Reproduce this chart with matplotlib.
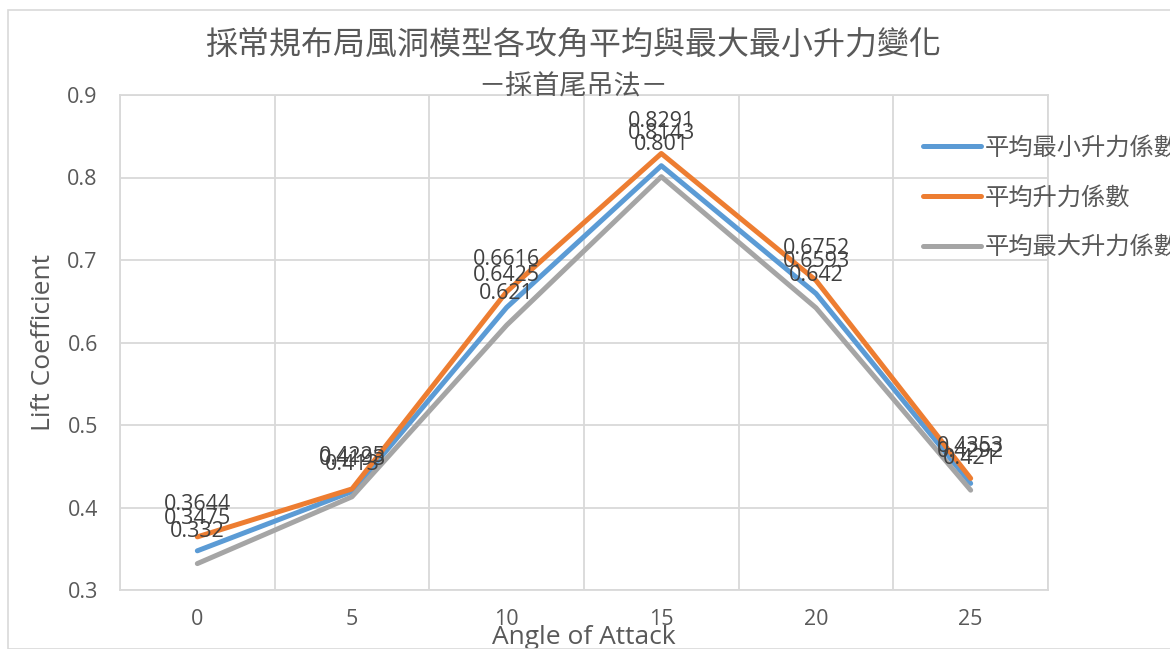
import matplotlib
matplotlib.use("Agg")
import matplotlib.pyplot as plt
from matplotlib.patches import Rectangle

plt.rcParams['font.family'] = ['Open Sans', 'Noto Sans CJK TC', 'DejaVu Sans']

angles = [0, 5, 10, 15, 20, 25]
series_names = ['平均最小升力係數', '平均升力係數', '平均最大升力係數']
cl_min = [0.3475, 0.4193, 0.6425, 0.8143, 0.6593, 0.4292]
cl_avg = [0.3644, 0.4225, 0.6616, 0.8291, 0.6752, 0.4353]
cl_max = [0.332, 0.413, 0.621, 0.801, 0.642, 0.421]
colors = ['#5B9BD5', '#ED7D31', '#A5A5A5']

W, H = 1170, 649
fig = plt.figure(figsize=(W / 100, H / 100), dpi=100)
fig.patches.append(Rectangle((8 / W, 0), 1, 1 - 10 / H, transform=fig.transFigure,
                             fill=False, edgecolor='#D9D9D9', lw=1.2))

ax = fig.add_axes([120 / W, 1 - 590 / H, (1048 - 120) / W, (590 - 95) / H])
grid_c = '#D9D9D9'
txt_c = '#595959'
cjk = ['Noto Sans CJK TC', 'DejaVu Sans']

for vals, name, c in zip([cl_min, cl_avg, cl_max], series_names, colors):
    ax.plot(angles, vals, color=c, lw=3.6, label=name, solid_capstyle='round', zorder=3)

for vals in [cl_min, cl_avg, cl_max]:
    for a, v in zip(angles, vals):
        ax.annotate(f'{v:g}', (a, v), xytext=(0, 23), textcoords='offset points',
                    ha='center', va='center', fontsize=15.5, color='#404040', zorder=5)

ax.set_xlim(-2.5, 27.5)
ax.set_ylim(0.3, 0.9)
ax.set_xticks(angles)
ax.set_xticks([-2.5 + 5 * i for i in range(7)], minor=True)
ax.set_yticks([0.3, 0.4, 0.5, 0.6, 0.7, 0.8, 0.9])
ax.set_yticklabels(['0.3', '0.4', '0.5', '0.6', '0.7', '0.8', '0.9'])
ax.grid(True, which='minor', axis='x', color=grid_c, lw=1.3)
ax.grid(True, which='major', axis='y', color=grid_c, lw=1.3)
ax.tick_params(which='both', length=0)
ax.tick_params(axis='y', pad=16, labelsize=15.5, labelcolor=txt_c)
ax.tick_params(axis='x', pad=14, labelsize=15.5, labelcolor=txt_c)
for s in ax.spines.values():
    s.set_color(grid_c)
    s.set_linewidth(1.3)
ax.set_axisbelow(True)

ax.set_ylabel('Lift Coefficient', fontsize=19, color=txt_c, labelpad=8)
ax.set_xlabel('Angle of Attack', fontsize=19, color=txt_c, labelpad=-4)

fig.text(573 / W, 1 - 45 / H, '採常規布局風洞模型各攻角平均與最大最小升力變化',
         ha='center', va='center', fontsize=23, color=txt_c, family=cjk)
fig.text(573 / W, 1 - 86 / H, '－採首尾吊法－', ha='center', va='center',
         fontsize=19.5, color=txt_c, family=cjk)

leg = fig.legend(loc='upper left', bbox_to_anchor=(923 / W, 1 - 135 / H), frameon=False,
                 handlelength=2.4, handletextpad=0.12, labelspacing=0.98,
                 borderpad=0, borderaxespad=0,
                 prop={'family': cjk, 'size': 17.5})
for t in leg.get_texts():
    t.set_color(txt_c)

fig.savefig('out.png', dpi=100)
